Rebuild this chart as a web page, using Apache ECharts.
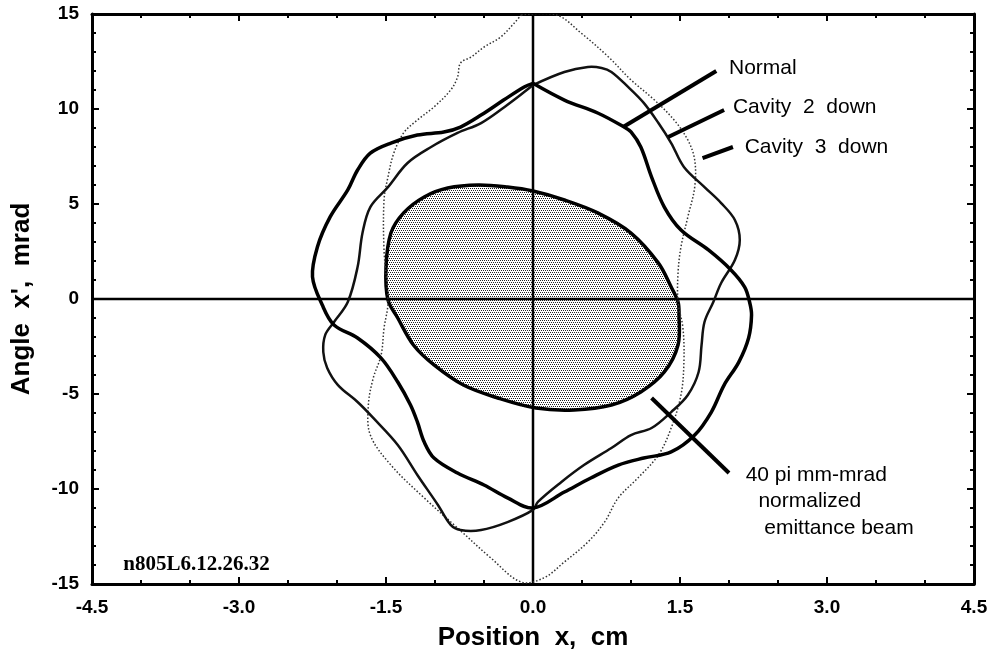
<!DOCTYPE html>
<html>
<head>
<meta charset="utf-8">
<script src="https://cdn.jsdelivr.net/npm/echarts@6/dist/echarts.min.js"></script>
<style>
  html, body { margin: 0; padding: 0; background: #fff; }
  #chart { width: 995px; height: 663px; }
</style>
</head>
<body>
<div id="chart"></div>
<script>
// phase-space outlines (x in cm, x' in mrad)
const normalPts = [
  [0, 11.35], [0.32, 10.47], [0.66, 9.79], [0.93, 9.05], [1.0, 8.79], [1.10, 8.0],
  [1.21, 6.42], [1.34, 4.84], [1.51, 3.63], [1.79, 2.58], [2.02, 1.53], [2.16, 0.63],
  [2.21, -0.16], [2.23, -0.84], [2.20, -2.05], [2.10, -3.32], [1.95, -4.53], [1.82, -5.95],
  [1.65, -7.16], [1.41, -8.05], [1.13, -8.37], [0.87, -8.74], [0.59, -9.42], [0.32, -10.16],
  [0, -11.0], [-0.26, -10.47], [-0.50, -9.79], [-0.77, -9.16], [-1.01, -8.37], [-1.11, -7.53],
  [-1.18, -6.47], [-1.25, -5.58], [-1.38, -4.37], [-1.55, -3.11], [-1.79, -2.05], [-2.03, -1.37],
  [-2.15, -0.32], [-2.25, 1.16], [-2.20, 2.74], [-2.07, 4.32], [-1.89, 5.74], [-1.79, 6.79],
  [-1.66, 7.68], [-1.45, 8.21], [-1.18, 8.63], [-0.91, 8.79], [-0.74, 9.05], [-0.53, 9.68],
  [-0.30, 10.47], [-0.09, 11.16], [0, 11.35]
];
const cavity2Pts = [
  [0, 11.26], [0.32, 11.95], [0.56, 12.21], [0.70, 12.16], [0.80, 11.95], [0.97, 11.16],
  [1.13, 10.32], [1.28, 9.26], [1.41, 8.21], [1.54, 6.95], [1.75, 5.89], [1.92, 5.05],
  [2.06, 4.16], [2.11, 3.11], [2.06, 2.05], [1.92, 0.84], [1.84, -0.16], [1.75, -1.21],
  [1.72, -2.42], [1.69, -3.84], [1.58, -5.05], [1.41, -5.95], [1.21, -6.79], [1.0, -7.16],
  [0.80, -7.84], [0.52, -8.74], [0.29, -9.63], [0.05, -10.68], [0, -11.1], [-0.26, -11.74],
  [-0.53, -12.16], [-0.74, -12.16], [-0.84, -11.89], [-0.97, -10.84], [-1.18, -9.26], [-1.38, -7.68],
  [-1.63, -6.26], [-1.79, -5.42], [-1.99, -4.53], [-2.10, -3.63], [-2.14, -2.79], [-2.12, -1.89],
  [-2.03, -1.21], [-1.89, -0.16], [-1.79, 1.68], [-1.74, 3.47], [-1.66, 4.84], [-1.48, 5.89],
  [-1.28, 7.16], [-1.04, 8.0], [-0.77, 8.74], [-0.53, 9.26], [-0.29, 10.11], [-0.09, 10.89],
  [0, 11.26]
];
const cavity3Pts = [
  [-0.12, 14.95], [0.24, 14.95], [0.49, 14.0], [0.77, 12.74], [1.0, 11.53], [1.24, 10.47],
  [1.44, 9.42], [1.58, 8.37], [1.65, 7.32], [1.65, 5.89], [1.58, 4.32], [1.51, 2.74],
  [1.48, 1.37], [1.48, -0.16], [1.53, -1.53], [1.54, -3.32], [1.51, -5.05], [1.41, -6.79],
  [1.28, -8.21], [1.07, -9.42], [0.87, -10.47], [0.73, -11.74], [0.56, -12.79], [0.32, -13.84],
  [0.11, -14.68], [-0.12, -14.9], [-0.43, -13.63], [-0.77, -12.05], [-1.11, -10.47], [-1.45, -8.74],
  [-1.66, -7.16], [-1.68, -5.58], [-1.63, -4.16], [-1.55, -2.95], [-1.52, -1.53], [-1.48, -0.16],
  [-1.52, 2.58], [-1.52, 5.21], [-1.48, 6.42], [-1.42, 7.68], [-1.32, 8.74], [-1.18, 9.42],
  [-1.01, 10.11], [-0.84, 11.0], [-0.77, 11.68], [-0.74, 12.42], [-0.63, 12.74], [-0.50, 13.26],
  [-0.33, 13.79], [-0.19, 14.53], [-0.12, 14.95]
];
const beamPts = [
  [-1.48, -0.05], [-1.50, 1.68], [-1.45, 3.47], [-1.32, 4.53], [-1.11, 5.37], [-0.87, 5.84],
  [-0.56, 6.0], [-0.26, 5.89], [0, 5.68], [0.32, 5.21], [0.66, 4.53], [1.0, 3.47],
  [1.28, 1.89], [1.41, 0.63], [1.48, -0.16], [1.49, -0.84], [1.48, -2.42], [1.34, -3.84],
  [1.10, -4.89], [0.80, -5.58], [0.42, -5.84], [0.03, -5.74], [-0.36, -5.21], [-0.71, -4.53],
  [-1.01, -3.47], [-1.22, -2.42], [-1.38, -1.0]
];

// annotation leader lines and texts
const pointers = [
  [[0.92, 9.05], [1.87, 12.0]],
  [[1.38, 8.53], [1.95, 9.95]],
  [[1.73, 7.42], [2.04, 8.0]],
  [[1.21, -5.21], [2.0, -9.16]]
];
const noteTexts = ['Normal', 'Cavity  2  down', 'Cavity  3  down', '40 pi mm-mrad', 'normalized', 'emittance beam'];
const notePos = [[2.0, 12.16], [2.04, 10.1], [2.16, 8.0], [2.17, -9.26], [2.30, -10.63], [2.36, -12.05]];
const runLabel = 'n805L6.12.26.32';
const runLabelPos = [-4.18, -14.0];

const xMin = -4.5, xMax = 4.5, xStep = 1.5;
const yMin = -15, yMax = 15, yStep = 5;

// stipple for the beam ellipse
const pat = document.createElement('canvas');
pat.width = 4; pat.height = 4;
const pc = pat.getContext('2d');
pc.fillStyle = '#fff'; pc.fillRect(0, 0, 4, 4);
pc.fillStyle = '#222';
[[0, 0], [2, 0], [1, 2], [3, 2]].forEach(p => pc.fillRect(p[0], p[1], 1, 1));

const font = 'Liberation Sans, Arial, sans-serif';

function clipOf(params) {
  const cs = params.coordSys;
  return { type: 'rect', shape: { x: cs.x, y: cs.y, width: cs.width, height: cs.height } };
}

function curve(pts, shapeType, style, z) {
  return {
    type: 'custom', coordinateSystem: 'cartesian2d', silent: true, z: z,
    data: [[0, 0]],
    renderItem: (params, api) => ({
      type: shapeType,
      shape: { points: pts.map(p => api.coord(p)), smooth: 0.35 },
      style: style,
      clipPath: clipOf(params)
    })
  };
}

function axisCommon(pos, showLabel) {
  return {
    position: pos,
    axisLine: { onZero: false, lineStyle: { color: '#000', width: 3 } },
    axisTick: { inside: true, length: 7, lineStyle: { color: '#000', width: 2 } },
    splitLine: { show: false },
    axisLabel: { show: showLabel, color: '#000', fontSize: 19, fontWeight: 'bold', fontFamily: font },
    nameTextStyle: { color: '#000', fontSize: 26, fontWeight: 'bold', fontFamily: font }
  };
}

const chart = echarts.init(document.getElementById('chart'));

const xBottom = Object.assign(axisCommon('bottom', true), {
  type: 'value', min: xMin, max: xMax, interval: xStep,
  minorTick: { show: true, splitNumber: 3, length: 4, lineStyle: { color: '#000', width: 2 } },
  name: 'Position  x,  cm', nameLocation: 'middle', nameGap: 41
});
xBottom.axisLabel.formatter = v => v.toFixed(1);
xBottom.axisLabel.margin = 14;
const xTop = Object.assign(axisCommon('top', false), {
  type: 'value', min: xMin, max: xMax, interval: xStep,
  minorTick: { show: true, splitNumber: 3, length: 4, lineStyle: { color: '#000', width: 2 } }
});
const yLeft = Object.assign(axisCommon('left', true), {
  type: 'value', min: yMin, max: yMax, interval: yStep,
  minorTick: { show: true, splitNumber: 5, length: 4, lineStyle: { color: '#000', width: 2 } },
  name: "Angle  x',  mrad", nameLocation: 'middle', nameGap: 57
});
yLeft.axisLabel.margin = 13;
const yRight = Object.assign(axisCommon('right', false), {
  type: 'value', min: yMin, max: yMax, interval: yStep,
  minorTick: { show: true, splitNumber: 5, length: 4, lineStyle: { color: '#000', width: 2 } }
});

const series = [
  // stippled beam fill
  curve(beamPts, 'polygon', { fill: { image: pat, repeat: 'repeat' }, stroke: null }, 1),
  // cross hairs
  {
    type: 'line', silent: true, symbol: 'none', z: 2,
    data: [[xMin, 0], [xMax, 0]],
    lineStyle: { color: '#000', width: 2.5 }
  },
  {
    type: 'line', silent: true, symbol: 'none', z: 2,
    data: [[0, yMin], [0, yMax]],
    lineStyle: { color: '#000', width: 2.5 }
  },
  curve(beamPts, 'polygon', { fill: 'none', stroke: '#000', lineWidth: 3.5 }, 3),
  curve(cavity3Pts, 'polyline', { fill: 'none', stroke: '#333', lineWidth: 1.5, lineDash: [1.5, 2] }, 3),
  curve(cavity2Pts, 'polyline', { fill: 'none', stroke: '#111', lineWidth: 2.5 }, 4),
  curve(normalPts, 'polyline', { fill: 'none', stroke: '#000', lineWidth: 3.5 }, 5)
];

pointers.forEach(seg => series.push({
  type: 'line', silent: true, symbol: 'none', z: 6,
  data: seg,
  lineStyle: { color: '#000', width: 4 }
}));

series.push({
  type: 'custom', coordinateSystem: 'cartesian2d', silent: true, z: 7,
  data: notePos.map((p, i) => [p[0], p[1], i]),
  renderItem: (params, api) => {
    const pt = api.coord([api.value(0), api.value(1)]);
    return {
      type: 'text', x: pt[0], y: pt[1],
      style: { text: noteTexts[api.value(2)], fill: '#000', font: '21px ' + font, verticalAlign: 'middle', align: 'left' }
    };
  }
});
series.push({
  type: 'custom', coordinateSystem: 'cartesian2d', silent: true, z: 7,
  data: [runLabelPos],
  renderItem: (params, api) => {
    const pt = api.coord([api.value(0), api.value(1)]);
    return {
      type: 'text', x: pt[0], y: pt[1],
      style: { text: runLabel, fill: '#000', font: 'bold 21px Liberation Serif, Times New Roman, serif', verticalAlign: 'middle', align: 'left' }
    };
  }
});

chart.setOption({
  animation: false,
  backgroundColor: '#fff',
  grid: { left: 92, right: 21, top: 14, bottom: 79 },
  xAxis: [xBottom, xTop],
  yAxis: [yLeft, yRight],
  series: series
});
</script>
</body>
</html>
